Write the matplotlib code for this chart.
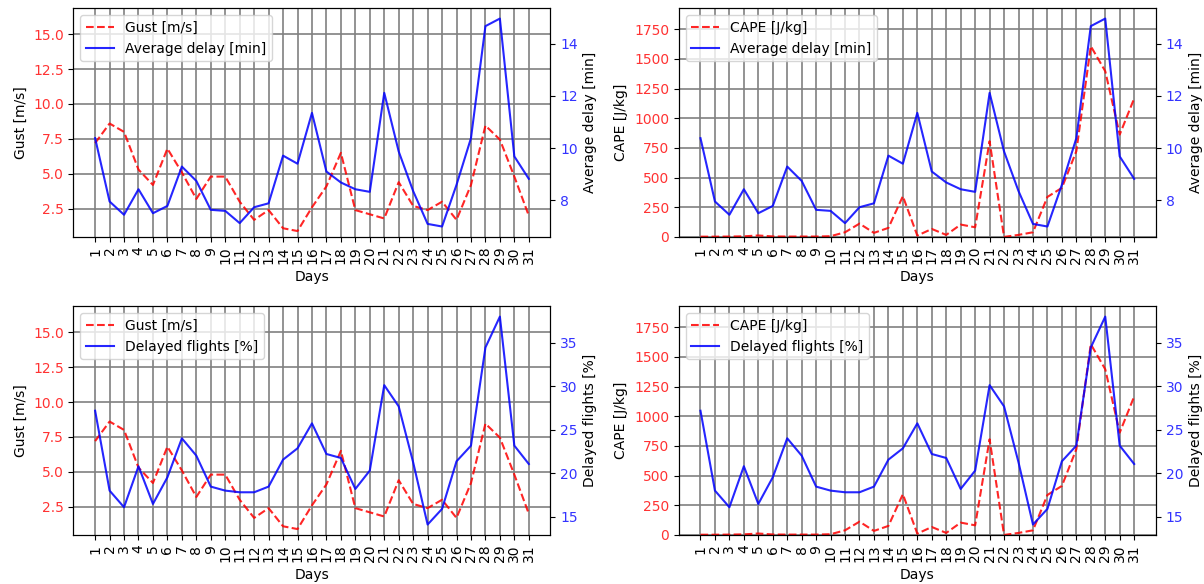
import matplotlib.pyplot as plt

days = list(range(1, 32))

gust = [7.2, 8.6, 8.0, 5.3, 4.2, 6.8, 5.1, 3.2, 4.8, 4.8,
        3.0, 1.7, 2.4, 1.1, 0.9, 2.6, 4.1, 6.5, 2.4, 2.1,
        1.8, 4.4, 2.7, 2.4, 3.0, 1.7, 4.2, 8.45, 7.45, 4.8,
        2.0]

cape = [2, 2, 3, 5, 12, 4, 3, 3, 3, 6,
        39, 112, 34, 76, 343, 11, 67, 17, 104, 81,
        806, 0, 17, 39, 337, 413, 722, 1607, 1396, 862,
        1166]

avg_delay = [10.38, 7.95, 7.44, 8.42, 7.50, 7.78, 9.29, 8.74, 7.63, 7.59,
             7.12, 7.73, 7.88, 9.71, 9.40, 11.35, 9.10, 8.68, 8.42, 8.32,
             12.12, 9.87, 8.35, 7.09, 6.99, 8.59, 10.38, 14.68, 14.97, 9.68,
             8.82]

delayed_pct = [27.16, 17.98, 16.07, 20.78, 16.45, 19.51, 23.99, 22.0, 18.44, 17.98,
               17.79, 17.79, 18.44, 21.54, 22.84, 25.71, 22.19, 21.73, 18.17, 20.28,
               30.1, 27.66, 21.23, 14.08, 15.88, 21.35, 23.15, 34.43, 37.98, 23.15,
               21.04]


def plot_pair(ax, weather, weather_label, weather_ylim, delay, delay_label):
    l1, = ax.plot(days, weather, 'r--', alpha=0.85, linewidth=1.5, label=weather_label)
    ax.set_ylim(weather_ylim)
    ax.set_ylabel(weather_label)
    ax.set_xlabel('Days')
    ax.set_xticks(days)
    ax.set_xticklabels([str(d) for d in days], rotation=90)
    ax.tick_params(axis='y', labelcolor='r')
    ax.grid(True, color='grey', linewidth=1.2)

    ax2 = ax.twinx()
    l2, = ax2.plot(days, delay, 'b-', alpha=0.85, linewidth=1.5, label=delay_label)
    ax2.set_ylabel(delay_label)
    ax2.tick_params(axis='y', labelcolor='b')
    for lab in ax.get_yticklabels():
        lab.set_alpha(0.8)
    for lab in ax2.get_yticklabels():
        lab.set_alpha(0.8)

    ax2.legend([l1, l2], [weather_label, delay_label], loc='upper left')


fig, axes = plt.subplots(2, 2, figsize=(12.04, 5.84), dpi=100)
plt.subplots_adjust(left=0.061, right=0.960, bottom=0.084, top=0.986,
                    wspace=0.269, hspace=0.303)

plot_pair(axes[0, 0], gust, 'Gust [m/s]', (0.48, 16.86), avg_delay, 'Average delay [min]')
plot_pair(axes[0, 1], cape, 'CAPE [J/kg]', (0, 1927), avg_delay, 'Average delay [min]')
plot_pair(axes[1, 0], gust, 'Gust [m/s]', (0.48, 16.86), delayed_pct, 'Delayed flights [%]')
plot_pair(axes[1, 1], cape, 'CAPE [J/kg]', (0, 1927), delayed_pct, 'Delayed flights [%]')

plt.savefig('out.png', dpi=100)
